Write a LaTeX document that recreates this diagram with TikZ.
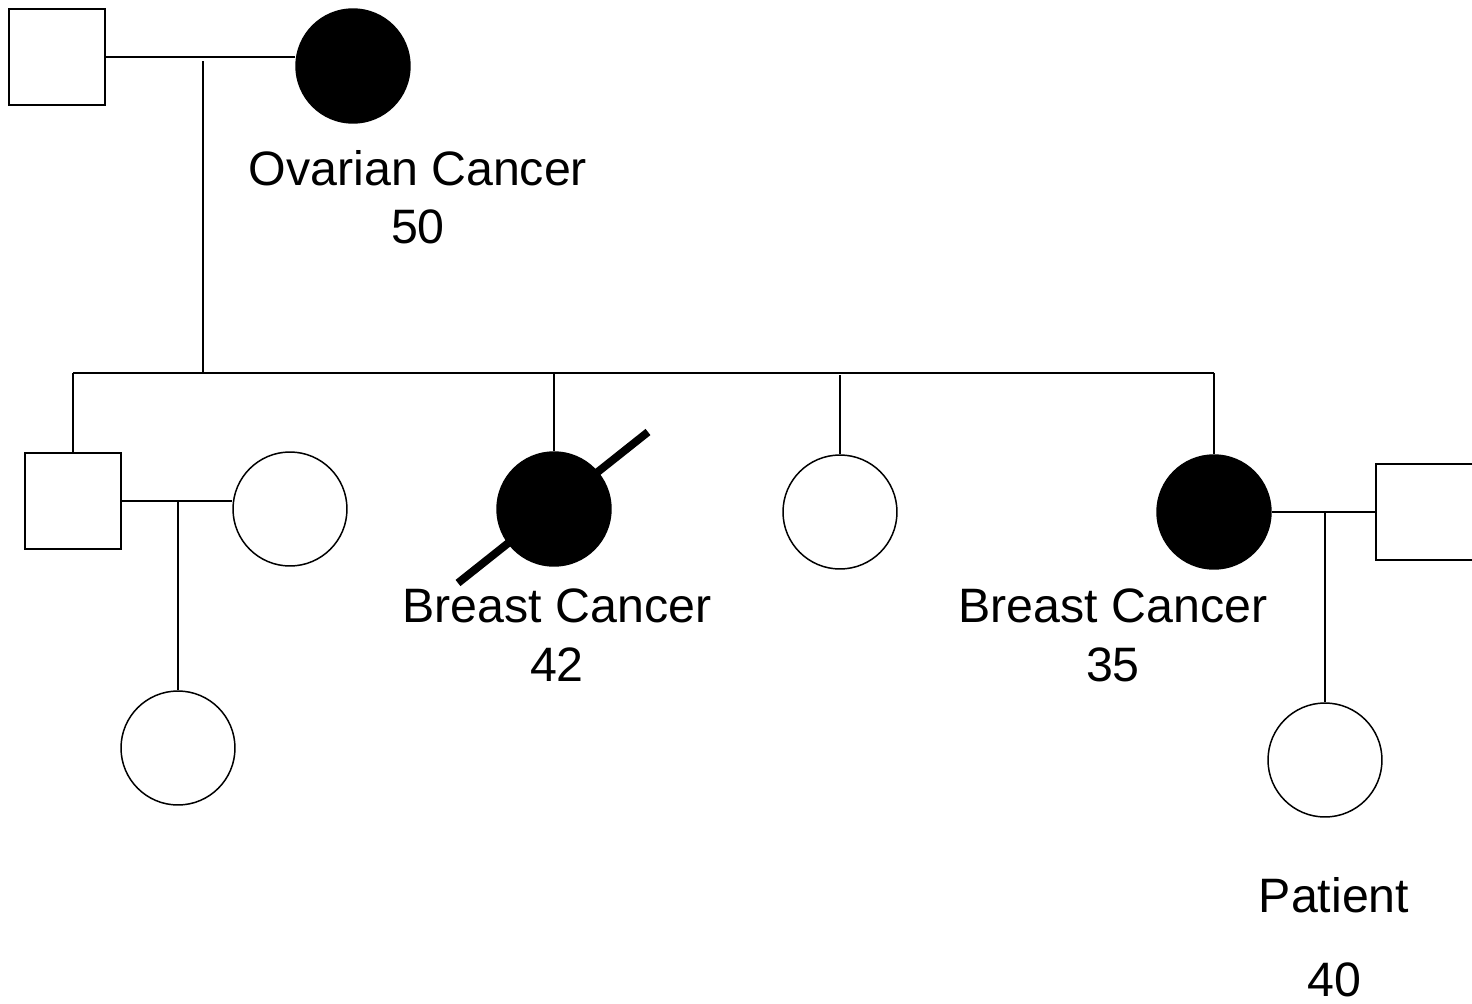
\documentclass[tikz,border=0pt]{standalone}
\usepackage{fontspec}
\setmainfont{Liberation Sans}
\begin{document}
\begin{tikzpicture}[x=0.02cm,y=-0.02cm,line width=0.85pt,
  male/.style={draw,rectangle,minimum size=1.93cm,inner sep=0pt},
  female/.style={draw,circle,minimum size=2.28cm,inner sep=0pt},
  affected/.style={fill=black},
  label/.style={inner sep=0pt,font=\fontsize{27.5}{32}\selectfont}]
\useasboundingbox (0,0) rectangle (1472,1004);
\node [male] (gf) at (57,57) {};
\node [female,affected] (gm) at (353,66) {};
\node [label] (gmtxt) at (418,168) {Ovarian Cancer};
\node [label] (gmage) at (418,227) {50};
\draw (gf.east) -- (gm.west |- gf.east);
\coordinate (top) at (203,61);
\coordinate (sibl) at (73,373);
\coordinate (sibr) at (1214,373);
\draw (top) -- (top |- sibl);
\draw (sibl) -- (sibr);
\node [male] (uncle) at (73,501) {};
\node [female] (aunt) at (290,509) {};
\node [female] (cousin) at (178,748) {};
\node [female,affected] (sis1) at (554,509) {};
\node [label] (sis1txt) at (557,606) {Breast Cancer};
\node [label] (sis1age) at (557,665) {42};
\draw [line width=4.5pt] (sis1) ++(-96,74) -- ++(190,-151);
\node [female] (sis2) at (840,512) {};
\node [female,affected] (mother) at (1214,512) {};
\node [label] (mothertxt) at (1113,606) {Breast Cancer};
\node [label] (motherage) at (1113,665) {35};
\node [male] (father) at (1424,512) {};
\node [female] (patient) at (1325,760) {};
\node [label] (pattxt) at (1334,895) {Patient};
\node [label] (patage) at (1334,980) {40};
\draw (sibl) -- (uncle.north);
\draw (sis1.north |- sibl) -- (sis1.north);
\draw (840,375) -- (sis2.north);
\draw (sibr) -- (mother.north);
\draw (uncle.east) -- (aunt.west |- uncle.east);
\draw (cousin.north |- uncle.east) -- (cousin.north);
\draw (mother.east) -- (father.west);
\draw (patient.north |- father.west) -- (patient.north);
\end{tikzpicture}
\end{document}
